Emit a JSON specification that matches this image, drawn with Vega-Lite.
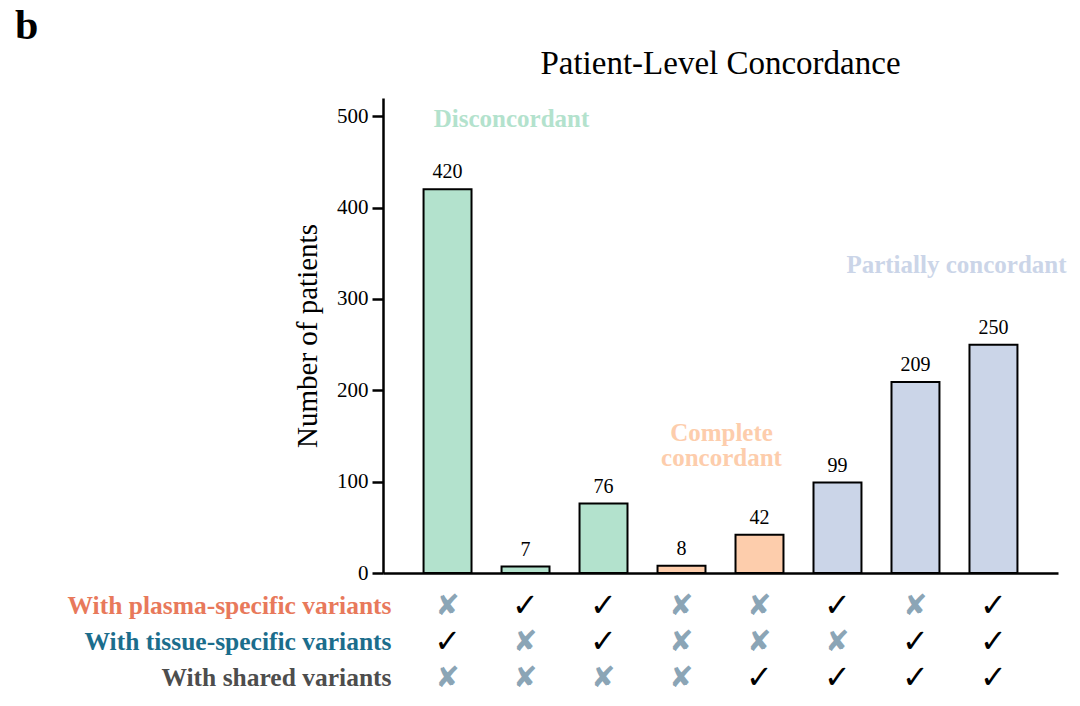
{
  "$schema": "https://vega.github.io/schema/vega-lite/v6.json",
  "padding": {"left": 15, "top": 5, "right": 8, "bottom": 5},
  "background": "white",
  "datasets": {
    "bars": [
      {"id": "1", "count": 420, "group": "Disconcordant"},
      {"id": "2", "count": 7, "group": "Disconcordant"},
      {"id": "3", "count": 76, "group": "Disconcordant"},
      {"id": "4", "count": 8, "group": "Complete concordant"},
      {"id": "5", "count": 42, "group": "Complete concordant"},
      {"id": "6", "count": 99, "group": "Partially concordant"},
      {"id": "7", "count": 209, "group": "Partially concordant"},
      {"id": "8", "count": 250, "group": "Partially concordant"}
    ],
    "matrix": [
      {"row": "With plasma-specific variants", "id": "1", "has": false},
      {"row": "With plasma-specific variants", "id": "2", "has": true},
      {"row": "With plasma-specific variants", "id": "3", "has": true},
      {"row": "With plasma-specific variants", "id": "4", "has": false},
      {"row": "With plasma-specific variants", "id": "5", "has": false},
      {"row": "With plasma-specific variants", "id": "6", "has": true},
      {"row": "With plasma-specific variants", "id": "7", "has": false},
      {"row": "With plasma-specific variants", "id": "8", "has": true},
      {"row": "With tissue-specific variants", "id": "1", "has": true},
      {"row": "With tissue-specific variants", "id": "2", "has": false},
      {"row": "With tissue-specific variants", "id": "3", "has": true},
      {"row": "With tissue-specific variants", "id": "4", "has": false},
      {"row": "With tissue-specific variants", "id": "5", "has": false},
      {"row": "With tissue-specific variants", "id": "6", "has": false},
      {"row": "With tissue-specific variants", "id": "7", "has": true},
      {"row": "With tissue-specific variants", "id": "8", "has": true},
      {"row": "With shared variants", "id": "1", "has": false},
      {"row": "With shared variants", "id": "2", "has": false},
      {"row": "With shared variants", "id": "3", "has": false},
      {"row": "With shared variants", "id": "4", "has": false},
      {"row": "With shared variants", "id": "5", "has": true},
      {"row": "With shared variants", "id": "6", "has": true},
      {"row": "With shared variants", "id": "7", "has": true},
      {"row": "With shared variants", "id": "8", "has": true}
    ],
    "notes": [
      {"label": "Disconcordant", "id": "2", "y": 497, "group": "Disconcordant"},
      {"label": ["Complete", "concordant"], "id": "4", "y": 153, "group": "Complete concordant"},
      {"label": "Partially concordant", "id": "7", "y": 337, "group": "Partially concordant"}
    ]
  },
  "title": {
    "text": "b",
    "anchor": "start",
    "frame": "bounds",
    "fontSize": 42,
    "fontWeight": "bold",
    "color": "black",
    "dx": -52,
    "offset": 0
  },
  "spacing": 5,
  "vconcat": [
    {
      "width": 675,
      "height": 475,
      "title": {
        "text": "Patient-Level Concordance",
        "fontSize": 33,
        "fontWeight": "normal",
        "anchor": "middle",
        "color": "black",
        "offset": 17
      },
      "layer": [
        {
          "data": {"name": "bars"},
          "mark": {"type": "bar", "stroke": "black", "strokeWidth": 2},
          "encoding": {
            "x": {
              "field": "id",
              "type": "ordinal",
              "scale": {"type": "band", "domain": ["1", "2", "3", "4", "5", "6", "7", "8"], "paddingInner": 0.385, "paddingOuter": 0.52},
              "axis": {"labels": false, "ticks": false, "title": null, "domainWidth": 2.5, "domainColor": "black"}
            },
            "y": {
              "field": "count",
              "type": "quantitative",
              "scale": {"domain": [0, 520], "nice": false},
              "axis": {
                "values": [0, 100, 200, 300, 400, 500],
                "title": "Number of patients",
                "titleFontSize": 29,
                "titleFontWeight": "normal",
                "titleColor": "black",
                "titlePadding": 14,
                "labelFontSize": 21,
                "labelColor": "black",
                "labelPadding": 4,
                "tickSize": 11,
                "tickWidth": 2.5,
                "tickColor": "black",
                "domainWidth": 2.5,
                "domainColor": "black",
                "grid": false
              }
            },
            "color": {
              "field": "group",
              "type": "nominal",
              "scale": {
                "domain": ["Disconcordant", "Complete concordant", "Partially concordant"],
                "range": ["#b3e2cd", "#fdcdac", "#cbd5e8"]
              },
              "legend": null
            }
          }
        },
        {
          "data": {"name": "bars"},
          "mark": {"type": "text", "baseline": "bottom", "dy": -7, "fontSize": 20, "color": "black"},
          "encoding": {
            "x": {"field": "id", "type": "ordinal"},
            "y": {"field": "count", "type": "quantitative"},
            "text": {"field": "count", "type": "quantitative"}
          }
        },
        {
          "data": {"name": "notes"},
          "transform": [{"filter": "datum.id == '2'"}],
          "mark": {"type": "text", "fontSize": 25, "fontWeight": "bold", "baseline": "middle", "dx": -14},
          "encoding": {
            "x": {"field": "id", "type": "ordinal"},
            "y": {"field": "y", "type": "quantitative"},
            "text": {"field": "label"},
            "color": {"field": "group", "type": "nominal", "legend": null}
          }
        },
        {
          "data": {"name": "notes"},
          "transform": [{"filter": "datum.id == '4'"}],
          "mark": {"type": "text", "fontSize": 25, "fontWeight": "bold", "baseline": "middle", "lineHeight": 25, "dx": 40},
          "encoding": {
            "x": {"field": "id", "type": "ordinal"},
            "y": {"field": "y", "type": "quantitative"},
            "text": {"field": "label"},
            "color": {"field": "group", "type": "nominal", "legend": null}
          }
        },
        {
          "data": {"name": "notes"},
          "transform": [{"filter": "datum.id == '7'"}],
          "mark": {"type": "text", "fontSize": 25, "fontWeight": "bold", "baseline": "middle", "dx": 41},
          "encoding": {
            "x": {"field": "id", "type": "ordinal"},
            "y": {"field": "y", "type": "quantitative"},
            "text": {"field": "label"},
            "color": {"field": "group", "type": "nominal", "legend": null}
          }
        }
      ]
    },
    {
      "width": 675,
      "height": 108,
      "data": {"name": "matrix"},
      "mark": {"type": "text", "font": "DejaVu Sans", "baseline": "middle"},
      "encoding": {
        "x": {
          "field": "id",
          "type": "ordinal",
          "scale": {"type": "band", "domain": ["1", "2", "3", "4", "5", "6", "7", "8"], "paddingInner": 0.385, "paddingOuter": 0.52},
          "axis": null
        },
        "y": {
          "field": "row",
          "type": "nominal",
          "sort": ["With plasma-specific variants", "With tissue-specific variants", "With shared variants"],
          "scale": {"type": "band", "paddingInner": 0, "paddingOuter": 0},
          "axis": {
            "title": null,
            "domain": false,
            "ticks": false,
            "labelFontSize": 25.5,
            "labelFontWeight": "bold",
            "labelPadding": -8,
            "labelLimit": 500,
            "labelColor": {"expr": "datum.value == 'With plasma-specific variants' ? '#e8795b' : datum.value == 'With tissue-specific variants' ? '#1b6d8c' : '#4d4d4d'"}
          }
        },
        "text": {"condition": {"test": "datum.has", "value": "✓"}, "value": "✘"},
        "size": {"condition": {"test": "datum.has", "value": 32}, "value": 29},
        "color": {"condition": {"test": "datum.has", "value": "#000000"}, "value": "#8ba5b6"}
      }
    }
  ],
  "config": {
    "font": "Liberation Serif",
    "view": {"stroke": null},
    "text": {"font": "Liberation Serif"}
  }
}
